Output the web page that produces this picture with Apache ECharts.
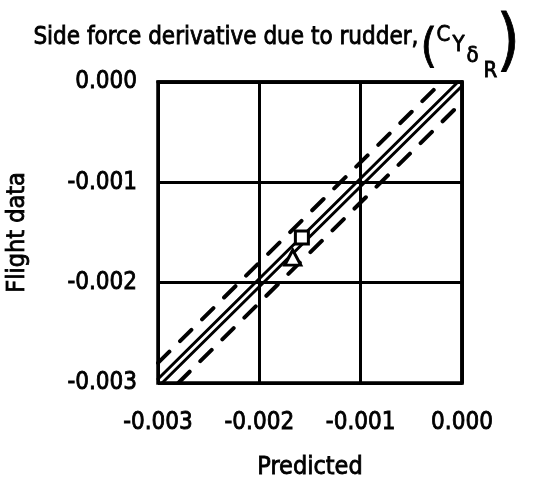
<!DOCTYPE html>
<html>
<head>
<meta charset="utf-8">
<script src="https://cdn.jsdelivr.net/npm/echarts@6/dist/echarts.min.js"></script>
<style>
  html, body { margin: 0; padding: 0; background: #fff; }
  #chart { width: 533px; height: 479px; }
</style>
</head>
<body>
<div id="chart"></div>
<script>
// Axis range and tick labels (both axes share the same scale)
var axisMin = -0.003;
var axisMax = 0.0;
var tickStep = 0.001;
var tickLabels = ['-0.003', '-0.002', '-0.001', '0.000'];

// Line of perfect agreement drawn as a narrow solid band
var solidUpper = [[-0.003, -0.00296], [-0.00004, 0.0]];
var solidLower = [[-0.00296, -0.003], [0.0, -0.00004]];
// Dashed tolerance boundaries
var dashedUpper = [[-0.003, -0.0028], [-0.0002, 0.0]];
var dashedLower = [[-0.0028, -0.003], [0.0, -0.0002]];

// Flight results: [predicted, flight]
var squarePoints = [[-0.00158, -0.00155]];
var trianglePoints = [[-0.00167, -0.00175]];

var FONT = '"Liberation Sans Narrow", "DejaVu Sans Condensed", "Roboto Condensed", sans-serif';
// a hairline outline gives the text a medium weight
var HEAVY = { textBorderColor: '#000', textBorderWidth: 0.8 };

function tickText(v) {
  var idx = Math.round((v - axisMin) / tickStep);
  return tickLabels[idx] !== undefined ? tickLabels[idx] : '';
}

function txt(text, left, top, size) {
  return {
    type: 'text', left: left, top: top,
    style: {
      text: text, fontFamily: FONT, fontSize: size,
      fill: '#000', stroke: '#000', lineWidth: 0.8
    }
  };
}

var chart = echarts.init(document.getElementById('chart'), null, { renderer: 'canvas' });

function lineSeries(data, dashed, width) {
  return {
    type: 'line',
    data: data,
    symbol: 'none',
    silent: true,
    clip: true,
    z: 3,
    lineStyle: {
      color: '#000',
      width: width,
      type: dashed ? [16, 15] : 'solid',
      cap: 'round'
    }
  };
}

var labelStyle = Object.assign({ fontFamily: FONT, fontSize: 24, color: '#000' }, HEAVY);
var nameStyle = Object.assign({ fontFamily: FONT, fontSize: 25, color: '#000' }, HEAVY);

var option = {
  animation: false,
  backgroundColor: '#fff',
  grid: {
    left: 158, right: 71, top: 82, bottom: 96,
    outerBoundsMode: 'none',
    containLabel: false,
    show: true,
    borderColor: '#000',
    borderWidth: 3.5,
    backgroundColor: 'transparent'
  },
  xAxis: {
    type: 'value',
    min: axisMin, max: axisMax, interval: tickStep,
    name: 'Predicted',
    nameLocation: 'middle',
    nameGap: 72,
    nameTextStyle: nameStyle,
    axisLine: { show: true, lineStyle: { color: '#000', width: 3.5 } },
    axisTick: { show: false },
    axisLabel: Object.assign({ formatter: tickText, margin: 28 }, labelStyle),
    splitLine: { show: true, lineStyle: { color: '#000', width: 3 } }
  },
  yAxis: {
    type: 'value',
    min: axisMin, max: axisMax, interval: tickStep,
    name: 'Flight data',
    nameLocation: 'middle',
    nameGap: 128,
    nameTextStyle: nameStyle,
    axisLine: { show: true, lineStyle: { color: '#000', width: 3.5 } },
    axisTick: { show: false },
    axisLabel: Object.assign({ formatter: tickText, margin: 21 }, labelStyle),
    splitLine: { show: true, lineStyle: { color: '#000', width: 3 } }
  },
  graphic: [
    txt('Side force derivative due to rudder,', 33, 25, 24),
    txt('(', 420, 25, 47),
    txt('C', 436, 24, 22),
    txt('Y', 452, 34, 22),
    txt('δ', 466, 45, 22),
    txt('R', 483, 60, 22),
    txt(')', 496, 12, 67)
  ],
  series: [
    lineSeries(solidUpper, false, 3),
    lineSeries(solidLower, false, 3),
    lineSeries(dashedUpper, true, 4),
    lineSeries(dashedLower, true, 4),
    {
      type: 'scatter',
      data: squarePoints,
      symbol: 'rect',
      symbolSize: 13,
      z: 5,
      itemStyle: { color: '#fff', borderColor: '#000', borderWidth: 3, opacity: 1 }
    },
    {
      type: 'scatter',
      data: trianglePoints,
      symbol: 'triangle',
      symbolSize: [16, 15],
      z: 5,
      itemStyle: { color: '#fff', borderColor: '#000', borderWidth: 3, opacity: 1 }
    }
  ]
};

chart.setOption(option);
</script>
</body>
</html>
